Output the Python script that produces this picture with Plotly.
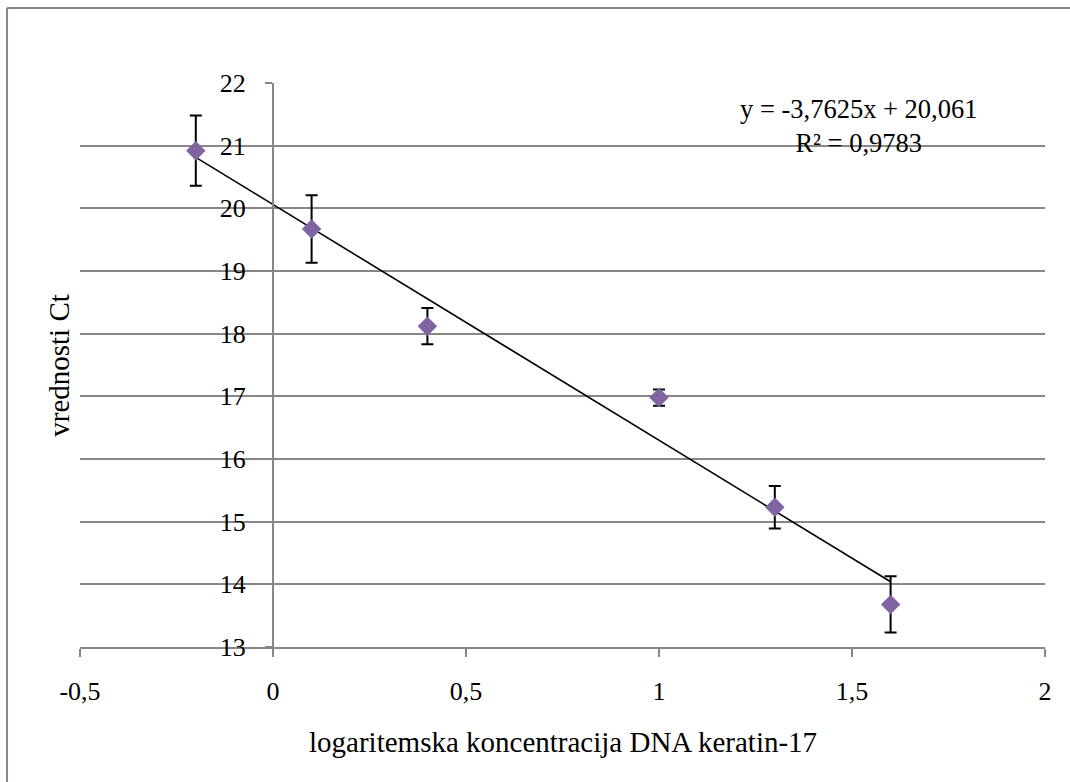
import plotly.graph_objects as go

# data
x_vals = [-0.2, 0.1, 0.4, 1.0, 1.3, 1.6]
ct_vals = [20.92, 19.67, 18.12, 16.98, 15.23, 13.68]
err_vals = [0.56, 0.54, 0.29, 0.13, 0.34, 0.45]
slope = -3.7625
intercept = 20.061
r2_text = "0,9783"
x_ticks = [-0.5, 0, 0.5, 1, 1.5, 2]
x_ticklabels = ["-0,5", "0", "0,5", "1", "1,5", "2"]
y_ticks = list(range(13, 23))

FONT = "Liberation Serif, Times New Roman, serif"
GRID = "#878787"

fig = go.Figure()

trend_x = [min(x_vals), max(x_vals)]
trend_y = [slope * v + intercept for v in trend_x]
fig.add_trace(go.Scatter(x=trend_x, y=trend_y, mode="lines",
                         line=dict(color="black", width=1.6), showlegend=False,
                         hoverinfo="skip"))

fig.add_trace(go.Scatter(
    x=x_vals, y=ct_vals, mode="markers",
    marker=dict(symbol="diamond", size=15, color="#8064A2", line=dict(width=0)),
    error_y=dict(type="data", array=err_vals, visible=True, color="black",
                 thickness=2, width=6),
    showlegend=False))

fig.update_layout(
    width=1070, height=782,
    margin=dict(l=80, r=25, t=83, b=135),
    paper_bgcolor="white", plot_bgcolor="white",
    font=dict(family=FONT, size=26, color="black"),
    xaxis=dict(range=[-0.5, 2], tickvals=x_ticks, ticktext=x_ticklabels,
               showgrid=False, zeroline=False, showline=True,
               linecolor=GRID, linewidth=2, ticks="outside", ticklen=8,
               tickwidth=2, tickcolor=GRID, ticklabelstandoff=12,
               tickfont=dict(size=26), anchor="y"),
    yaxis=dict(range=[13, 22], tickvals=y_ticks, showgrid=True,
               gridcolor=GRID, gridwidth=1.5, zeroline=False, showline=True,
               linecolor=GRID, linewidth=2, ticks="outside", ticklen=7,
               tickwidth=2, tickcolor=GRID, anchor="free", position=0.2,
               ticklabelstandoff=14, tickfont=dict(size=26)),
    shapes=[
        dict(type="line", xref="paper", yref="paper", x0=-0.0756, x1=1.1,
             y0=1.133, y1=1.133, line=dict(color=GRID, width=2)),
        dict(type="line", xref="paper", yref="paper", x0=-0.0756, x1=-0.0756,
             y0=1.133, y1=-0.3, line=dict(color=GRID, width=2)),
    ],
    annotations=[
        dict(text="y = -3,7625x + 20,061<br>R² = " + r2_text, xref="paper",
             yref="paper", x=0.807, y=0.924, xanchor="center", yanchor="middle",
             showarrow=False, align="center", font=dict(size=26.5)),
        dict(text="vrednosti Ct", xref="paper", yref="paper", x=-0.022,
             y=0.50, textangle=-90, showarrow=False, xanchor="center",
             yanchor="middle", font=dict(size=29)),
        dict(text="logaritemska koncentracija DNA keratin-17", xref="paper",
             yref="paper", x=0.5, y=-0.168, showarrow=False, xanchor="center",
             yanchor="middle", font=dict(size=29)),
    ],
)

fig.write_html("out.html")
